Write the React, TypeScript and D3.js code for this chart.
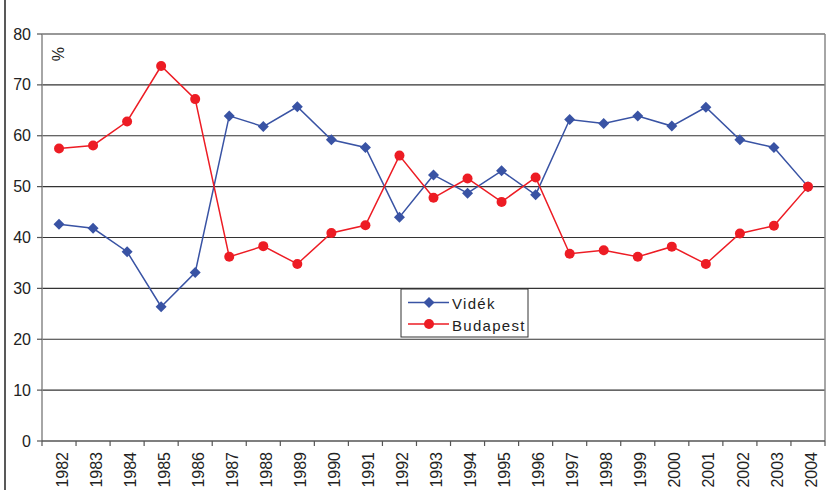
import React from "react";
import * as d3 from "d3";

const years = ["1982","1983","1984","1985","1986","1987","1988","1989","1990","1991","1992","1993","1994","1995","1996","1997","1998","1999","2000","2001","2002","2003","2004"];
const videk = [42.6,41.8,37.2,26.4,33.1,63.9,61.8,65.7,59.2,57.7,44.0,52.3,48.7,53.1,48.4,63.2,62.4,63.9,61.9,65.6,59.2,57.7,50.0];
const budapest = [57.5,58.1,62.8,73.7,67.2,36.2,38.3,34.8,40.9,42.4,56.1,47.8,51.6,47.0,51.8,36.8,37.5,36.2,38.2,34.8,40.8,42.3,50.0];
const yTicks = [0,10,20,30,40,50,60,70,80];
const seriesNames = ["Vidék","Budapest"];

const W = 826, H = 494;
const BLUE = "#3953a4";
const RED = "#ed1c24";
const FONT = "Liberation Sans, Arial, sans-serif";

export default function App() {
  const x = d3.scaleBand<string>().domain(years).range([42, 825]).padding(0);
  const y = d3.scaleLinear().domain([0, 80]).range([441, 34]);
  const cx = (d: string) => (x(d) as number) + x.bandwidth() / 2;
  const line = d3.line<number>().x((_, i) => cx(years[i])).y((v) => y(v));
  const diamond = (px: number, py: number, r = 5.5) =>
    `M${px},${py - r}L${px + r},${py}L${px},${py + r}L${px - r},${py}Z`;
  const boundaries = d3.range(years.length + 1).map((i) => 42 + i * x.bandwidth());

  return (
    <svg width={W} height={H} style={{ position: "absolute", left: 0, top: 0, background: "#fff" }} fontFamily={FONT}>
      <rect x={0} y={0} width={W} height={H} fill="#fff" />
      <line x1={5} x2={5} y1={0} y2={490} stroke="#222" strokeWidth={1.5} />
      {/* gridlines */}
      {yTicks.filter((t) => t > 0).map((t) => (
        <line key={t} x1={42} x2={825} y1={y(t)} y2={y(t)} stroke="#333" strokeWidth={1.2} />
      ))}
      {/* plot border right */}
      <line x1={825} x2={825} y1={34} y2={441} stroke="#888" strokeWidth={1.5} />
      {/* y axis */}
      <line x1={42} x2={42} y1={34} y2={441} stroke="#888" strokeWidth={1.5} />
      {yTicks.map((t) => (
        <g key={t}>
          <line x1={37} x2={42} y1={y(t)} y2={y(t)} stroke="#555" strokeWidth={1.2} />
          <text x={31} y={y(t)} dy="0.35em" textAnchor="end" fontSize={16} fill="#222">{t}</text>
        </g>
      ))}
      {/* x axis */}
      <line x1={42} x2={825} y1={441} y2={441} stroke="#555" strokeWidth={1.5} />
      {boundaries.map((b, i) => (
        <line key={i} x1={b} x2={b} y1={441} y2={446} stroke="#555" strokeWidth={1.2} />
      ))}
      {years.map((yr) => (
        <text key={yr} transform={`translate(${cx(yr) + 3},452) rotate(-90)`} dy="0.35em" textAnchor="end" fontSize={16} fill="#222">{yr}</text>
      ))}
      <text transform={`translate(58,47) rotate(-90)`} dy="0.35em" textAnchor="end" fontSize={16} fill="#222">%</text>
      {/* series */}
      <path d={line(videk) || ""} fill="none" stroke={BLUE} strokeWidth={1.5} />
      <path d={line(budapest) || ""} fill="none" stroke={RED} strokeWidth={1.5} />
      {videk.map((v, i) => (
        <path key={"v" + i} d={diamond(cx(years[i]), y(v))} fill={BLUE} />
      ))}
      {budapest.map((v, i) => (
        <circle key={"b" + i} cx={cx(years[i])} cy={y(v)} r={5} fill={RED} />
      ))}
      {/* legend */}
      <rect x={401} y={289} width={127} height={48} fill="#fff" stroke="#333" strokeWidth={1} />
      <line x1={408} x2={449} y1={302.5} y2={302.5} stroke={BLUE} strokeWidth={1.5} />
      <path d={diamond(429, 302.5)} fill={BLUE} />
      <text x={452} y={309} fontSize={15} letterSpacing={1.3} fill="#222">{seriesNames[0]}</text>
      <line x1={408} x2={449} y1={324} y2={324} stroke={RED} strokeWidth={1.5} />
      <circle cx={429} cy={324} r={5} fill={RED} />
      <text x={452} y={330.5} fontSize={15} letterSpacing={1.3} fill="#222">{seriesNames[1]}</text>
    </svg>
  );
}
